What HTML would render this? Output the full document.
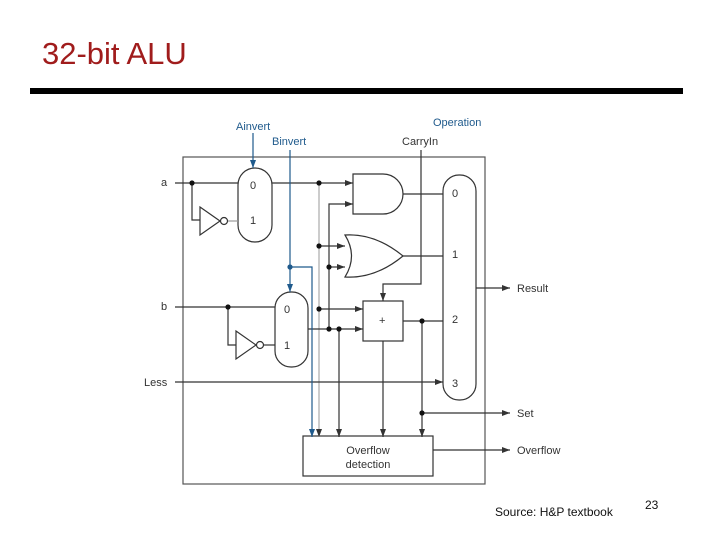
<!DOCTYPE html>
<html><head><meta charset="utf-8"><style>
body{margin:0;width:720px;height:540px;background:#fff;overflow:hidden;position:relative;font-family:"Liberation Sans",sans-serif}
</style></head><body>
<div style="position:absolute;left:42px;top:36px;font-size:31px;color:#a01c1c;line-height:36px">32-bit ALU</div>
<div style="position:absolute;left:30px;top:88px;width:653px;height:6px;background:#000"></div>
<svg width="720" height="540" style="position:absolute;left:0;top:0" font-family="Liberation Sans, sans-serif" font-size="11">
<defs>
<marker id="ar" markerWidth="8" markerHeight="6" refX="8" refY="3" orient="auto" markerUnits="userSpaceOnUse"><path d="M0,0 L8,3 L0,6z" fill="#333"/></marker>
<marker id="ab" markerWidth="8" markerHeight="6" refX="8" refY="3" orient="auto" markerUnits="userSpaceOnUse"><path d="M0,0 L8,3 L0,6z" fill="#1f5a8c"/></marker>
</defs>
<g stroke="#333" stroke-width="1.2" fill="none">
<rect x="183" y="157" width="302" height="327" stroke="#555"/>
<!-- mux A -->
<rect x="238" y="168" width="34" height="74" rx="17"/>
<!-- mux B -->
<rect x="275" y="292" width="33" height="75" rx="16"/>
<!-- big mux -->
<rect x="443" y="175" width="33" height="225" rx="16"/>
<!-- AND -->
<path d="M353,174 H383 A20,20 0 0 1 383,214 H353 Z"/>
<!-- OR -->
<path d="M345,235 Q375,233 403,256 Q375,279 345,277 Q358,256 345,235 Z"/>
<!-- adder -->
<rect x="363" y="301" width="40" height="40"/>
<!-- overflow -->
<rect x="303" y="436" width="130" height="40"/>
<!-- inverters -->
<path d="M200,207 L220,221 L200,235 Z"/><circle cx="224" cy="221" r="3.5"/>
<path d="M236,331 L256,345 L236,359 Z"/><circle cx="260" cy="345" r="3.5"/>
<!-- a wiring -->
<path d="M175,183 H238"/><path d="M192,183 V220 H200"/><path d="M228,221 H238" stroke="#999"/>
<path d="M272,183 H353" marker-end="url(#ar)"/>
<path d="M319,183 V437" stroke="#aaa" marker-end="url(#ar)"/>
<path d="M319,246 H345" marker-end="url(#ar)"/>
<path d="M319,309 H363" marker-end="url(#ar)"/>
<path d="M329,267 H345" marker-end="url(#ar)"/>
<path d="M329,329 V204 H353" marker-end="url(#ar)"/>
<!-- b wiring -->
<path d="M175,307 H275"/><path d="M228,307 V345 H236"/><path d="M264,345 H275"/>
<path d="M308,329 H363" marker-end="url(#ar)"/>
<path d="M339,329 V437" marker-end="url(#ar)"/>
<!-- gate outputs -->
<path d="M403,194 H443"/><path d="M403,256 H443"/><path d="M403,321 H443"/>
<path d="M422,321 V437" marker-end="url(#ar)"/>
<path d="M422,413 H510" marker-end="url(#ar)"/>
<path d="M383,341 V437" marker-end="url(#ar)"/>
<path d="M421,150 V284 H383 V301" marker-end="url(#ar)"/>
<path d="M476,288 H510" marker-end="url(#ar)"/>
<path d="M175,382 H443" marker-end="url(#ar)"/>
<path d="M433,450 H510" marker-end="url(#ar)"/>
<!-- blue -->
<g stroke="#1f5a8c">
<path d="M253,133 V168" marker-end="url(#ab)"/>
<path d="M290,150 V292" marker-end="url(#ab)"/>
<path d="M290,267 H312 V437" marker-end="url(#ab)"/>
</g>
</g>
<g fill="#111">
<circle cx="192" cy="183" r="2.6"/><circle cx="319" cy="183" r="2.6"/><circle cx="319" cy="246" r="2.6"/>
<circle cx="329" cy="267" r="2.6"/><circle cx="319" cy="309" r="2.6"/><circle cx="329" cy="329" r="2.6"/>
<circle cx="339" cy="329" r="2.6"/><circle cx="228" cy="307" r="2.6"/><circle cx="422" cy="321" r="2.6"/>
<circle cx="422" cy="413" r="2.6"/><circle cx="290" cy="267" r="2.6" fill="#1f5a8c"/>
</g>
<g fill="#333">
<text x="161" y="186">a</text><text x="161" y="310">b</text><text x="144" y="386">Less</text>
<text x="250" y="189">0</text><text x="250" y="224">1</text>
<text x="284" y="313">0</text><text x="284" y="349">1</text>
<text x="452" y="197">0</text><text x="452" y="258">1</text><text x="452" y="323">2</text><text x="452" y="387">3</text>
<text x="379" y="324">+</text>
<text x="402" y="145">CarryIn</text>
<text x="517" y="292">Result</text><text x="517" y="417">Set</text><text x="517" y="454">Overflow</text>
<text x="368" y="454" text-anchor="middle">Overflow</text><text x="368" y="468" text-anchor="middle">detection</text>
</g>
<g fill="#1f5a8c"><text x="236" y="130">Ainvert</text><text x="272" y="145">Binvert</text><text x="433" y="126">Operation</text></g>
<text x="495" y="516" font-size="12" fill="#111">Source: H&amp;P textbook</text>
<text x="645" y="509" font-size="12" fill="#111">23</text>
</svg>
</body></html>
